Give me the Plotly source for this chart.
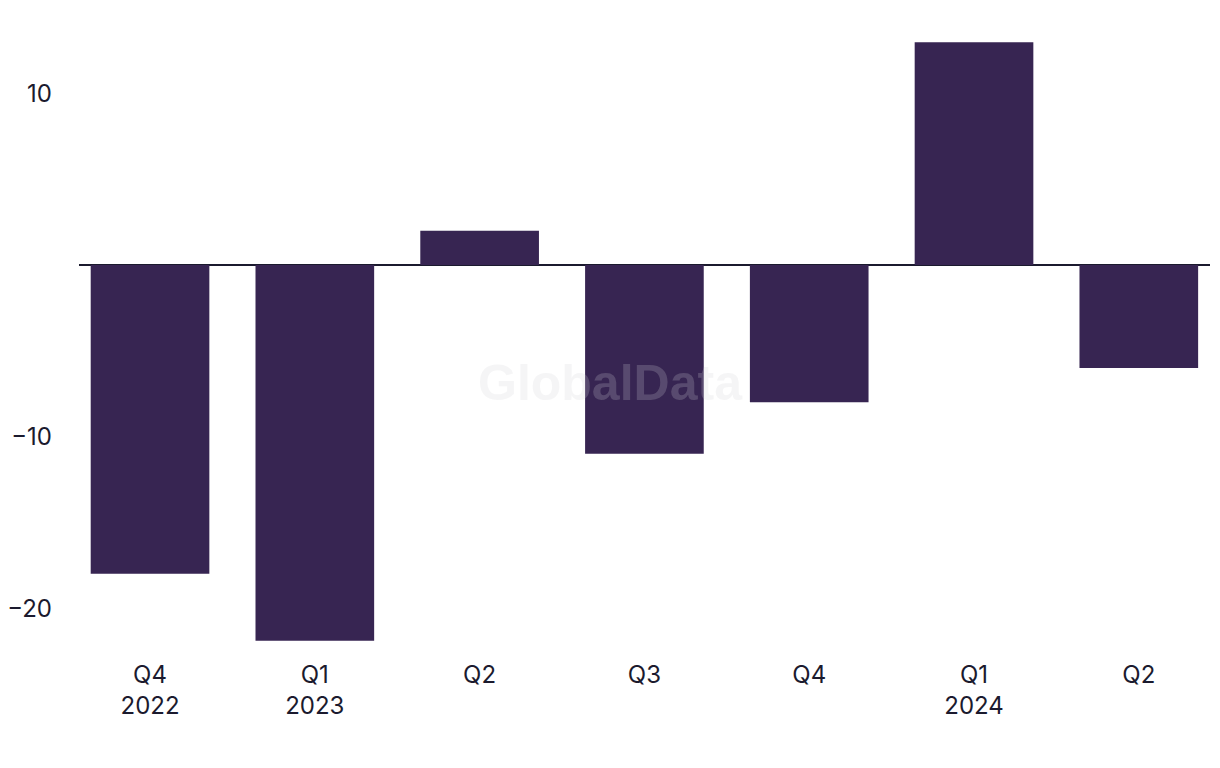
import plotly.graph_objects as go

quarters = ["Q4<br>2022", "Q1<br>2023", "Q2", "Q3", "Q4", "Q1<br>2024", "Q2"]
values = [-18.0, -21.9, 2.0, -11.0, -8.0, 13.0, -6.0]
y_ticks = [-20, -10, 10]
y_tick_labels = ["\u221220", "\u221210", "10"]

x_idx = list(range(len(quarters)))

BAR = "#372552"
TEXT = "#1b1a2e"

fig = go.Figure()
fig.add_trace(go.Bar(
    x=x_idx, y=values,
    marker=dict(color=BAR, line=dict(width=0)),
    width=0.72,
    hoverinfo="skip",
))

fig.update_layout(
    width=1204, height=752,
    margin=dict(l=71, r=2, t=17, b=109, autoexpand=False),
    paper_bgcolor="white", plot_bgcolor="white",
    showlegend=False,
    font=dict(family="Inter, Roboto, sans-serif", size=24, color=TEXT),
    xaxis=dict(
        range=[-0.431, 6.432],
        tickmode="array", tickvals=x_idx, ticktext=quarters,
        showgrid=False, zeroline=False, showline=False, ticks="",
        ticklabelstandoff=7,
        tickfont=dict(size=24, color=TEXT), automargin=False,
    ),
    yaxis=dict(
        range=[-22.5, 14],
        tickmode="array", tickvals=y_ticks, ticktext=y_tick_labels,
        showgrid=False, zeroline=True, zerolinecolor=TEXT, zerolinewidth=2,
        showline=False, ticks="", ticklabelstandoff=26,
        tickfont=dict(size=24, color=TEXT), automargin=False,
    ),
    annotations=[dict(
        text="<b>GlobalData</b>", x=0.4695, y=0.428, xref="paper", yref="paper",
        xanchor="center", yanchor="middle", showarrow=False,
        font=dict(family="Liberation Sans, Arial, sans-serif", size=50, color="rgba(208,208,215,0.22)"),
    )],
)

fig.write_html("out.html")
